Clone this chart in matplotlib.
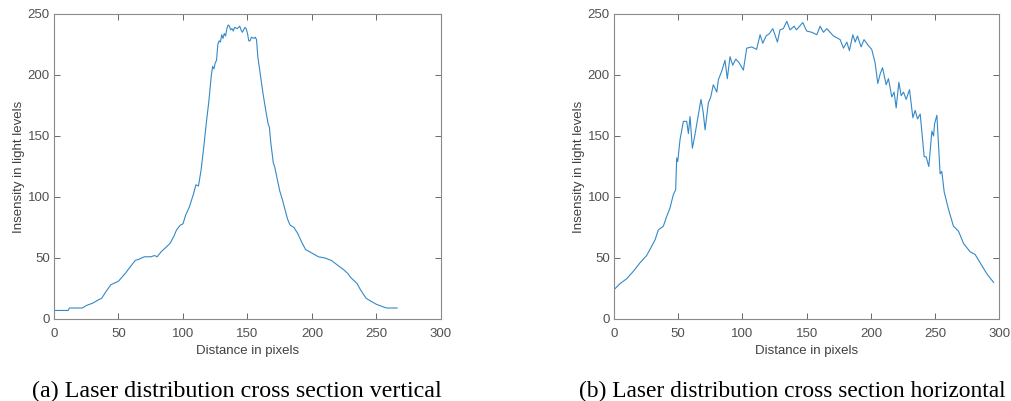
import matplotlib.pyplot as plt

# vertical cross section
x_v = [0, 11, 12, 22, 25, 30, 35, 37, 40, 44, 48, 50, 55, 60, 63, 66, 70, 75, 78, 80,
       83, 86, 90, 93, 95, 98, 100, 102, 105, 108, 110, 112, 114, 116, 118, 120, 122,
       123, 124, 125, 126, 127, 128, 129, 130, 131, 132, 133, 134, 135, 136, 137, 138,
       139, 140, 142, 144, 145, 146, 148, 149, 150, 151, 152, 153, 155, 156, 157, 158,
       160, 162, 164, 166, 167, 168, 170, 171, 173, 175, 177, 179, 181, 183, 186, 189,
       192, 195, 200, 205, 210, 215, 220, 225, 228, 230, 232, 235, 237, 240, 242, 245,
       250, 255, 258, 262, 266]
y_v = [7, 7, 9, 9, 11, 13, 16, 17, 22, 28, 30, 31, 37, 44, 48, 49, 51, 51, 52, 51,
       55, 58, 62, 68, 73, 77, 78, 85, 92, 102, 110, 109, 122, 140, 160, 178, 200,
       207, 205, 210, 212, 225, 228, 227, 233, 230, 234, 232, 238, 241, 240, 237, 238,
       236, 239, 238, 240, 237, 235, 239, 238, 234, 228, 228, 231, 230, 231, 229, 215,
       200, 185, 172, 160, 157, 145, 128, 125, 115, 105, 98, 90, 82, 77, 75, 70,
       63, 57, 54, 51, 50, 48, 44, 40, 37, 34, 32, 29, 25, 20, 17, 15,
       12, 10, 9, 9, 9]

# horizontal cross section
x_h = [0, 4.7, 9.9, 15, 20.2, 25.4, 28, 32, 34.5, 38.4, 41, 43.6, 46.2, 48, 48.8, 49.6,
       51.4, 54, 56.6, 57.9, 59.2, 61, 63, 67.7, 69.5, 70.9, 73.4, 75.3, 77.3, 80, 81.2,
       83.8, 86.4, 88.2, 90.3, 92.4, 94.8, 97.4, 100.7, 103.3, 107.2, 111, 113.7, 115.8,
       118.4, 121, 123.6, 127.2, 129.2, 131.8, 134.5, 137, 140.2, 142, 146.9, 150, 154,
       157.9, 160.4, 163, 165.6, 170.8, 176, 178.6, 181.2, 183.2, 185.9, 187.7, 189.5,
       192.3, 194.6, 198, 200.6, 203.2, 205.3, 207.2, 209, 211.8, 213.6, 216.2, 218,
       219.6, 221.7, 223.5, 225.3, 227.4, 230, 232.6, 234.4, 236.2, 238.3, 241.4, 242.9,
       245, 247.4, 248.7, 249.5, 251.3, 253.8, 255.1, 257, 260.3, 264.2, 268.1, 272,
       277.2, 281, 285, 290.2, 295.4]
y_h = [24, 29, 33, 39, 46, 52, 57, 65, 73, 76, 84, 91, 102, 106, 132, 129,
       147, 162, 162, 152, 166, 140, 151, 180, 169, 155, 177, 182, 192, 186, 196,
       203, 212, 197, 215, 208, 213, 210, 204, 222, 223, 221, 233, 226,
       232, 234, 238, 227, 237, 238, 244, 237, 240, 237, 243, 236, 235,
       233, 240, 235, 238, 232, 229, 222, 227, 220, 233, 227, 232,
       223, 229, 224, 221, 210, 193, 201, 206, 192, 197, 182, 186,
       173, 194, 183, 186, 180, 188, 165, 171, 164, 168, 133, 133,
       125, 154, 150, 160, 167, 119, 121, 104, 90, 76, 72, 62,
       55, 53, 46, 37, 30]

captions = ['(a) Laser distribution cross section vertical',
            '(b) Laser distribution cross section horizontal']

plt.rcParams['font.family'] = ['Liberation Sans', 'DejaVu Sans']
fig = plt.figure(figsize=(10.11, 4.01), dpi=100)
ax1 = fig.add_axes([0.0534, 0.2045, 0.3828, 0.7606])
ax2 = fig.add_axes([0.6073, 0.2045, 0.3813, 0.7606])

for ax, x, y in [(ax1, x_v, y_v), (ax2, x_h, y_h)]:
    ax.plot(x, y, color='#3489c8', linewidth=0.8)
    ax.set_xlim(0, 300)
    ax.set_ylim(0, 250)
    ax.set_xticks([0, 50, 100, 150, 200, 250, 300])
    ax.set_yticks([0, 50, 100, 150, 200, 250])
    ax.tick_params(direction='in', top=True, right=True, length=4, width=0.6,
                   colors='#505050', labelsize=9.5, pad=3)
    ax.tick_params(axis='x', pad=6.6)
    for s in ax.spines.values():
        s.set_color('#8a8a8a')
        s.set_linewidth(0.8)
    ax.set_xlabel('Distance in pixels', fontsize=9.5, color='#404040', labelpad=3.5)
    ax.set_ylabel('Insensity in light levels', fontsize=9.5, color='#404040', labelpad=2)

fig.text(0.2344, 0.025, captions[0], ha='center', va='center',
         family='Liberation Serif', fontsize=17.3)
fig.text(0.5727, 0.025, captions[1], ha='left', va='center',
         family='Liberation Serif', fontsize=16.8)

fig.savefig('out.png', dpi=100)
